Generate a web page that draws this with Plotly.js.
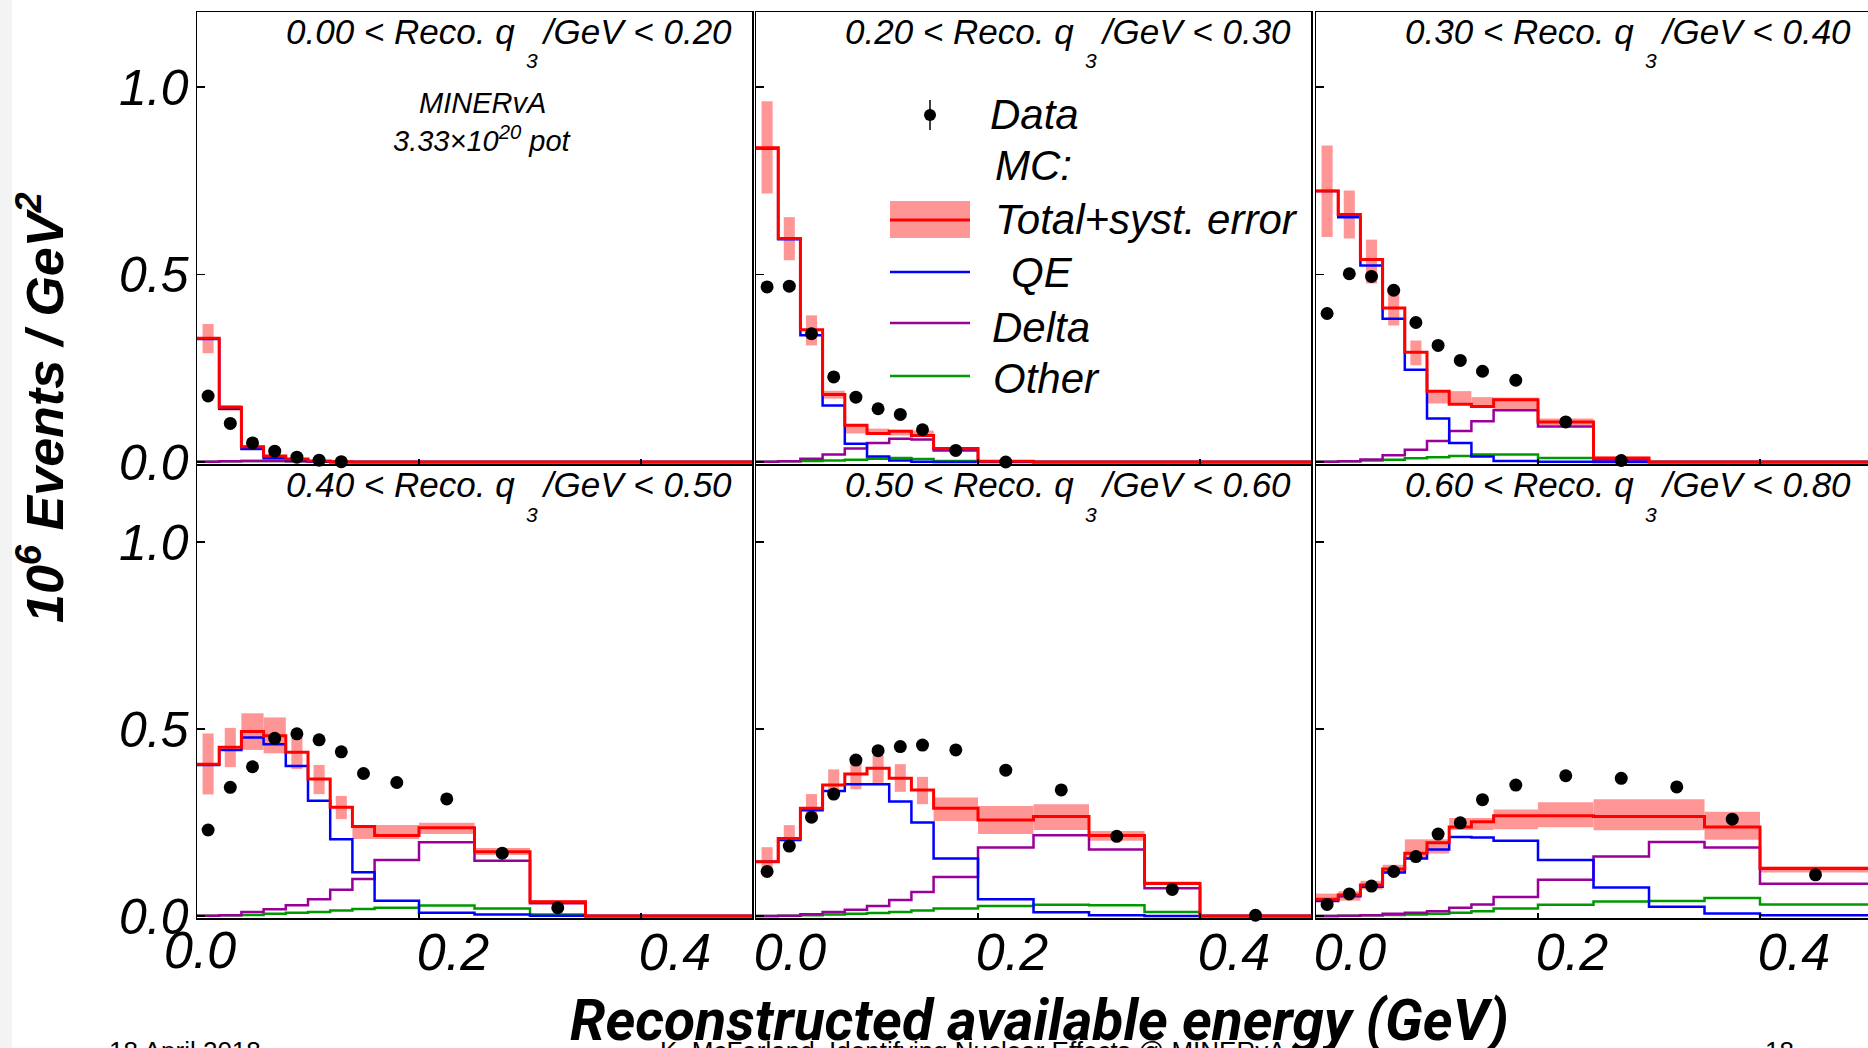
<!DOCTYPE html>
<html><head><meta charset="utf-8">
<script src="https://cdn.plot.ly/plotly-3.0.1.min.js"></script>
<style>html,body{margin:0;padding:0;background:#fff;}#chart{width:1868px;height:1048px;}</style>
</head><body><div id="chart"></div>
<script>
const W = 1868, H = 1048;

// ---------------- data ----------------
const binEdges = [0, 0.02, 0.04, 0.06, 0.08, 0.10, 0.12, 0.14, 0.16, 0.20, 0.25, 0.30, 0.35, 0.40, 0.50];
const q3Low  = ["0.00", "0.20", "0.30", "0.40", "0.50", "0.60"];
const q3High = ["0.20", "0.30", "0.40", "0.50", "0.60", "0.80"];

const totalMC = [
  [0.330, 0.146, 0.041, 0.016, 0.008, 0.003, 0.001, 0, 0, 0, 0, 0, 0, 0],
  [0.838, 0.596, 0.353, 0.180, 0.098, 0.076, 0.082, 0.071, 0.036, 0.002, 0, 0, 0, 0],
  [0.723, 0.660, 0.540, 0.411, 0.293, 0.189, 0.154, 0.148, 0.166, 0.107, 0.011, 0, 0, 0],
  [0.406, 0.451, 0.493, 0.482, 0.438, 0.366, 0.291, 0.239, 0.215, 0.236, 0.172, 0.038, 0, 0],
  [0.145, 0.207, 0.288, 0.350, 0.380, 0.395, 0.368, 0.337, 0.288, 0.257, 0.266, 0.215, 0.087, 0],
  [0.045, 0.056, 0.083, 0.126, 0.168, 0.196, 0.238, 0.252, 0.268, 0.268, 0.266, 0.266, 0.238, 0.127]
];
const bandLow = [
  [0.290, 0.137, 0.037, 0.013, 0.006, 0.002, 0, 0, 0, 0, 0, 0, 0, 0],
  [0.716, 0.538, 0.311, 0.169, 0.076, 0.074, 0.071, 0.067, 0.032, 0.001, 0, 0, 0, 0],
  [0.600, 0.596, 0.476, 0.364, 0.258, 0.156, 0.154, 0.145, 0.140, 0.098, 0.008, 0, 0, 0],
  [0.325, 0.398, 0.444, 0.435, 0.393, 0.326, 0.259, 0.206, 0.206, 0.219, 0.163, 0.034, 0, 0],
  [0.127, 0.190, 0.267, 0.317, 0.339, 0.356, 0.332, 0.299, 0.254, 0.219, 0.230, 0.201, 0.083, 0],
  [0.038, 0.041, 0.071, 0.114, 0.155, 0.167, 0.230, 0.230, 0.232, 0.237, 0.229, 0.229, 0.204, 0.116]
];
const bandHigh = [
  [0.368, 0.152, 0.045, 0.019, 0.010, 0.004, 0.001, 0, 0, 0, 0, 0, 0, 0],
  [0.962, 0.653, 0.391, 0.190, 0.098, 0.089, 0.086, 0.084, 0.040, 0.003, 0, 0, 0, 0],
  [0.844, 0.724, 0.593, 0.449, 0.324, 0.190, 0.189, 0.173, 0.172, 0.116, 0.014, 0, 0, 0],
  [0.488, 0.503, 0.542, 0.531, 0.484, 0.404, 0.321, 0.243, 0.243, 0.249, 0.182, 0.042, 0, 0],
  [0.184, 0.243, 0.326, 0.392, 0.421, 0.430, 0.406, 0.372, 0.317, 0.294, 0.299, 0.227, 0.092, 0],
  [0.060, 0.066, 0.094, 0.137, 0.205, 0.205, 0.262, 0.262, 0.285, 0.304, 0.312, 0.312, 0.279, 0.133]
];
// fraction of the bin width covered by each error box
const bandWidthFrac = [
  [0.5, 1, 1, 1, 1, 1, 1, 1, 1, 1, 1, 1, 1, 1],
  [0.5, 0.5, 0.5, 1, 1, 1, 1, 1, 1, 1, 1, 1, 1, 1],
  [0.5, 0.5, 0.5, 0.5, 0.5, 1, 1, 1, 1, 1, 1, 1, 1, 1],
  [0.5, 0.5, 1, 1, 0.5, 0.5, 0.5, 1, 1, 1, 1, 1, 1, 1],
  [0.5, 0.5, 0.5, 0.5, 0.5, 0.5, 0.5, 0.5, 1, 1, 1, 1, 1, 1],
  [1, 1, 1, 1, 1, 1, 1, 1, 1, 1, 1, 1, 1, 1]
];
const qeMC = [
  [0.328, 0.142, 0.035, 0.010, 0.004, 0.001, 0, 0, 0, 0, 0, 0, 0, 0],
  [0.836, 0.594, 0.338, 0.151, 0.049, 0.015, 0.004, 0.001, 0, 0, 0, 0, 0, 0],
  [0.723, 0.653, 0.524, 0.382, 0.246, 0.116, 0.051, 0.015, 0.003, 0.001, 0, 0, 0, 0],
  [0.404, 0.444, 0.477, 0.459, 0.401, 0.308, 0.205, 0.117, 0.041, 0.009, 0.004, 0.001, 0, 0],
  [0.145, 0.203, 0.283, 0.334, 0.352, 0.352, 0.306, 0.250, 0.154, 0.045, 0.010, 0.002, 0, 0],
  [0.040, 0.053, 0.078, 0.116, 0.154, 0.178, 0.211, 0.210, 0.201, 0.150, 0.076, 0.025, 0.007, 0.002]
];
const deltaMC = [
  [0.001, 0.002, 0.003, 0.003, 0.002, 0.001, 0, 0, 0, 0, 0, 0, 0, 0],
  [0.001, 0.002, 0.009, 0.020, 0.036, 0.051, 0.062, 0.060, 0.031, 0.001, 0, 0, 0, 0],
  [0.001, 0.002, 0.007, 0.018, 0.033, 0.056, 0.083, 0.109, 0.138, 0.095, 0.005, 0, 0, 0],
  [0.001, 0.002, 0.011, 0.018, 0.029, 0.045, 0.070, 0.099, 0.150, 0.197, 0.148, 0.034, 0, 0],
  [0, 0.001, 0.005, 0.011, 0.017, 0.027, 0.043, 0.064, 0.104, 0.183, 0.216, 0.178, 0.074, 0],
  [0, 0.001, 0.002, 0.006, 0.009, 0.013, 0.022, 0.031, 0.051, 0.097, 0.159, 0.198, 0.183, 0.086]
];
const otherMC = [
  [0.001, 0.002, 0.003, 0.003, 0.002, 0.001, 0, 0, 0, 0, 0, 0, 0, 0],
  [0.001, 0.002, 0.003, 0.004, 0.006, 0.009, 0.011, 0.008, 0.003, 0.0005, 0, 0, 0, 0],
  [0.001, 0.002, 0.004, 0.006, 0.010, 0.013, 0.016, 0.020, 0.020, 0.011, 0.002, 0, 0, 0],
  [0.001, 0.002, 0.003, 0.006, 0.009, 0.011, 0.015, 0.019, 0.022, 0.028, 0.020, 0.004, 0, 0],
  [0, 0.001, 0.002, 0.004, 0.006, 0.008, 0.011, 0.015, 0.020, 0.027, 0.030, 0.029, 0.011, 0],
  [0, 0.001, 0.002, 0.003, 0.004, 0.006, 0.009, 0.013, 0.020, 0.030, 0.039, 0.040, 0.048, 0.031]
];
const dataPts = [
  [0.176, 0.103, 0.051, 0.029, 0.013, 0.005, 0.001],
  [0.467, 0.469, 0.342, 0.227, 0.173, 0.142, 0.127, 0.086, 0.031, 0.0],
  [0.396, 0.502, 0.495, 0.458, 0.372, 0.311, 0.271, 0.242, 0.218, 0.107, 0.004],
  [0.230, 0.344, 0.399, 0.475, 0.487, 0.471, 0.439, 0.381, 0.357, 0.313, 0.168, 0.022],
  [0.119, 0.187, 0.264, 0.326, 0.417, 0.442, 0.453, 0.457, 0.444, 0.390, 0.337, 0.213, 0.071, 0.002],
  [0.031, 0.059, 0.080, 0.119, 0.159, 0.219, 0.249, 0.311, 0.350, 0.375, 0.368, 0.345, 0.259, 0.110]
];
const yTickVals = [0, 0.5, 1.0];
const xTickVals = [0, 0.2, 0.4];
const legendLabels = ["Data", "MC:", "Total+syst. error", "QE", "Delta", "Other"];

// ---------------- style / geometry ----------------
const C = {total: '#ff0000', band: 'rgb(255,150,150)', qe: '#0000ff', delta: '#990099', other: '#009a00'};
const FONT = 'Liberation Sans, Arial, Helvetica, sans-serif';
const TITLEFONT = 'Roboto, Liberation Sans, Arial, sans-serif';
const colPx = [[197, 752], [756, 1311], [1316, 1871]];
const rowPx = [[12, 464], [465, 918]];
const zeroPx = [462, 916];
const unitPx = [375, 374];
const xUnitPx = 1110;

const px = x => x / W;
const py = y => 1 - y / H;

const centers = binEdges.slice(0, -1).map((e, i) => (e + binEdges[i + 1]) / 2);
const widths = binEdges.slice(0, -1).map((e, i) => binEdges[i + 1] - e);

const traces = [];
const layout = {
  width: W, height: H,
  margin: {l: 0, r: 0, t: 0, b: 0},
  paper_bgcolor: '#fff', plot_bgcolor: '#fff',
  showlegend: false, barmode: 'overlay',
  annotations: [], shapes: []
};

for (let k = 0; k < 6; k++) {
  const col = k % 3, row = Math.floor(k / 3);
  const n = k + 1;
  const xa = 'x' + (n === 1 ? '' : n), ya = 'y' + (n === 1 ? '' : n);
  // error band boxes
  const bx = [], by = [], bb = [], bw = [];
  centers.forEach((c, i) => {
    const lo = bandLow[k][i], hi = bandHigh[k][i];
    if (hi - lo > 0) { bx.push(c); by.push(hi - lo); bb.push(lo); bw.push(widths[i] * bandWidthFrac[k][i]); }
  });
  traces.push({type: 'bar', x: bx, y: by, base: bb, width: bw, xaxis: xa, yaxis: ya,
    marker: {color: C.band, line: {width: 0}}, hoverinfo: 'skip'});
  const step = (vals, color, w) => ({
    type: 'scatter', mode: 'lines', x: binEdges, y: vals.concat([vals[vals.length - 1]]),
    line: {shape: 'hv', color: color, width: w}, xaxis: xa, yaxis: ya, hoverinfo: 'skip'
  });
  traces.push(step(otherMC[k], C.other, 2.5));
  traces.push(step(deltaMC[k], C.delta, 2.5));
  traces.push(step(qeMC[k], C.qe, 2.5));
  traces.push(step(totalMC[k], C.total, 3));
  traces.push({type: 'scatter', mode: 'markers', x: centers.slice(0, dataPts[k].length), y: dataPts[k],
    marker: {color: '#000', size: 13}, cliponaxis: false, xaxis: xa, yaxis: ya, hoverinfo: 'skip'});

  const x0 = colPx[col][0], x1 = Math.min(colPx[col][1], W);
  const xr = [0, (x1 - x0) / xUnitPx];
  const yr = [-(rowPx[row][1] - zeroPx[row]) / unitPx[row], (zeroPx[row] - rowPx[row][0]) / unitPx[row]];
  const xAxisName = 'xaxis' + (n === 1 ? '' : n), yAxisName = 'yaxis' + (n === 1 ? '' : n);
  layout[xAxisName] = {
    domain: [px(x0), px(x1)], range: xr, anchor: ya,
    showline: true, mirror: true, linecolor: '#000', linewidth: 1.5,
    ticks: 'inside', ticklen: 5, tickwidth: 1.2, tickcolor: '#000',
    tickvals: (k === 3 ? xTickVals.slice(1) : xTickVals), tickformat: '.1f',
    showticklabels: row === 1, ticklabelshift: 34, ticklabelstandoff: -12,
    tickfont: {family: FONT, size: 52, color: '#000', style: 'italic'},
    showgrid: false, zeroline: false, fixedrange: true
  };
  layout[yAxisName] = {
    domain: [py(rowPx[row][1]), py(rowPx[row][0])], range: yr, anchor: xa,
    showline: true, mirror: col < 2, linecolor: '#000', linewidth: 1.5,
    ticks: 'inside', ticklen: 8, tickwidth: 1.2, tickcolor: '#000',
    tickvals: yTickVals, tickformat: '.1f',
    showticklabels: col === 0, ticklabelstandoff: -3,
    tickfont: {family: FONT, size: 50, color: '#000', style: 'italic'},
    showgrid: false, zeroline: false, fixedrange: true
  };

  // panel label (q3 range) with the low-set subscript 3
  const right = colPx[col][1] - 18;
  layout.annotations.push({
    xref: 'paper', yref: 'paper', x: px(right), y: py(rowPx[row][0] + 19),
    xanchor: 'right', yanchor: 'middle', showarrow: false,
    text: q3Low[k] + ' &lt; Reco. q\u00a0\u00a0\u00a0/GeV &lt; ' + q3High[k],
    font: {family: FONT, size: 35, color: '#000', style: 'italic'}
  });
  layout.annotations.push({
    xref: 'paper', yref: 'paper', x: px(colPx[col][1] - 220), y: py(rowPx[row][0] + 49),
    xanchor: 'center', yanchor: 'middle', showarrow: false, text: '3',
    font: {family: FONT, size: 21, color: '#000', style: 'italic'}
  });
}

// "0.0" label of the first bottom panel sits centred on its tick
layout.annotations.push({xref: 'paper', yref: 'paper', x: px(200), y: py(950), xanchor: 'center', yanchor: 'middle',
  showarrow: false, text: '0.0', font: {family: FONT, size: 52, color: '#000', style: 'italic'}});

// MINERvA / POT label
layout.annotations.push({xref: 'paper', yref: 'paper', x: px(482), y: py(103), xanchor: 'center', yanchor: 'middle',
  showarrow: false, text: 'MINERvA', font: {family: FONT, size: 29, color: '#000', style: 'italic'}});
layout.annotations.push({xref: 'paper', yref: 'paper', x: px(482), y: py(139), xanchor: 'center', yanchor: 'middle',
  showarrow: false, text: '3.33\u00d710<sup>20</sup> pot', font: {family: FONT, size: 29, color: '#000', style: 'italic'}});

// axis titles
layout.annotations.push({xref: 'paper', yref: 'paper', x: px(41), y: py(408), xanchor: 'center', yanchor: 'middle',
  textangle: -90, showarrow: false, text: '10<sup>6</sup> Events / GeV<sup>2</sup>',
  font: {family: FONT, size: 52, color: '#000', style: 'italic', weight: 'bold'}});
layout.annotations.push({xref: 'paper', yref: 'paper', x: px(1039), y: py(1020), xanchor: 'center', yanchor: 'middle',
  showarrow: false, text: 'Reconstructed available energy (GeV)',
  font: {family: TITLEFONT, size: 57, color: '#000', style: 'italic', weight: 'bold'}});

// slide footer (cut by the bottom edge)
[['18 April 2018', 107, 'left'], ['K. McFarland, Identifying Nuclear Effects @ MINERvA', 973, 'center'], ['18', 1763, 'left']]
  .forEach(([t, x, a]) => layout.annotations.push({xref: 'paper', yref: 'paper', x: px(x), y: py(1051),
    xanchor: a, yanchor: 'middle', showarrow: false, text: t, font: {family: FONT, size: 26, color: '#000'}}));

// legend (inside second panel)
const legY = [115, 165, 219, 273, 327, 378];
const legX = [988, 993, 993, 1009, 990, 991];
legendLabels.forEach((t, i) => layout.annotations.push({xref: 'paper', yref: 'paper', x: px(legX[i]), y: py(legY[i]),
  xanchor: 'left', yanchor: 'middle', showarrow: false, text: t,
  font: {family: FONT, size: 42, color: '#000', style: 'italic'}}));
const sx0 = 890, sx1 = 970;
layout.shapes.push({type: 'rect', xref: 'paper', yref: 'paper', x0: px(sx0), x1: px(sx1), y0: py(201), y1: py(238),
  fillcolor: C.band, line: {width: 0}});
[[C.total, 220, 3], [C.qe, 272, 2.5], [C.delta, 323, 2.5], [C.other, 376, 2.5]].forEach(([c, y, w]) =>
  layout.shapes.push({type: 'line', xref: 'paper', yref: 'paper', x0: px(sx0), x1: px(sx1), y0: py(y), y1: py(y),
    line: {color: c, width: w}}));
layout.shapes.push({type: 'line', xref: 'paper', yref: 'paper', x0: px(930), x1: px(930), y0: py(100), y1: py(130),
  line: {color: '#000', width: 1.5}});
layout.shapes.push({type: 'circle', xref: 'paper', yref: 'paper', x0: px(924), x1: px(936), y0: py(121), y1: py(109),
  fillcolor: '#000', line: {color: '#000', width: 0}});
// faint slide edge on the far left
layout.shapes.push({type: 'rect', xref: 'paper', yref: 'paper', x0: 0, x1: px(12), y0: 0, y1: 1,
  fillcolor: '#f3f3f3', line: {width: 0}, layer: 'below'});

Plotly.newPlot('chart', traces, layout, {staticPlot: true, displayModeBar: false});
</script>
</body></html>
